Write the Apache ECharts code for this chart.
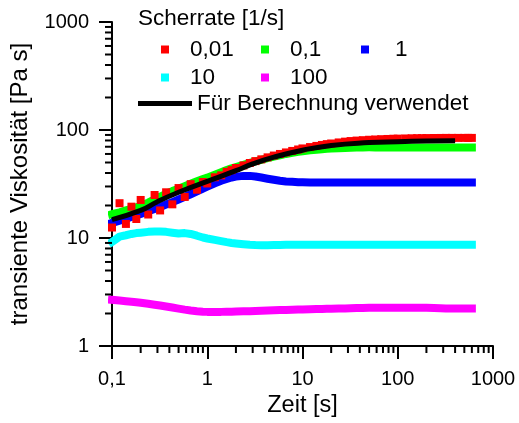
<!DOCTYPE html>
<html>
<head>
<meta charset="utf-8">
<script src="https://cdn.jsdelivr.net/npm/echarts@6/dist/echarts.min.js"></script>
<style>html,body{margin:0;padding:0;background:#fff}#c{width:519px;height:423px}</style>
</head>
<body>
<div id="c"></div>
<script>
// time axis samples [s]
const times = [0.1,0.12,0.14,0.16,0.18,0.2,0.24,0.28,0.32,0.37,0.43,0.5,0.58,0.67,0.78,0.9,1,1.2,1.4,1.6,1.8,2,2.4,2.8,3.2,3.7,4.3,5,5.8,6.7,7.8,9,10,12,14,16,18,20,24,28,32,37,43,50,58,67,78,90,100,120,140,160,180,200,240,280,320,370,430,500,550,600];
// shear rate 0.01 1/s
const visc001 = [12.5,21,13.5,19.5,15,22.5,16.5,25,18,26.5,20.5,29,24,31.5,28,33,32,36.5,38,41,42.5,44.5,47,49.5,51.5,53.5,55.8,58,60,62,64,66,67.5,69.5,71.2,72.7,74,75,76.7,78,79,79.8,80.5,81.2,81.7,82.2,82.6,83,83.2,83.5,83.8,84,84,84.2,84.3,84.4,84.5,84.5,84.5,84.5,84.5,84.5];
// shear rate 0.1 1/s
const visc01 = [16.6,17.3,18,18.6,19.2,19.8,21.3,22.8,24.1,25.7,27.2,28.6,30.2,31.8,33.6,35.2,36.2,38.6,40.7,42.6,44.2,45.4,47.6,49.6,51.2,53,54.8,56.8,58.4,60,61.5,62.8,63.6,64.8,65.7,66.4,66.9,67.3,67.9,68.3,68.6,68.8,69,69.1,69,69,69,69,69,69,69,69,69,69,69,69,69,69,69,69,69,69];
// shear rate 1 1/s
const visc1 = [13.8,14.5,15.1,15.7,16.2,16.7,17.7,18.6,19.4,20.4,21.5,22.7,24,25.4,27,28.7,29.9,32.1,33.9,35.2,36.3,37,37.6,37.6,37.1,36.3,35.4,34.6,33.9,33.4,33.1,32.9,32.8,32.7,32.6,32.6,32.6,32.6,32.6,32.6,32.6,32.6,32.6,32.6,32.6,32.6,32.6,32.6,32.6,32.6,32.6,32.6,32.6,32.6,32.6,32.6,32.6,32.6,32.6,32.6,32.6,32.6];
// shear rate 10 1/s
const visc10 = [9.2,10.3,10.6,10.9,11.1,11.2,11.4,11.5,11.5,11.4,11.2,11.0,11.1,10.9,10.5,10.1,9.9,9.6,9.35,9.15,9.0,8.9,8.75,8.65,8.6,8.58,8.58,8.6,8.62,8.64,8.65,8.65,8.65,8.65,8.65,8.65,8.65,8.65,8.65,8.65,8.65,8.65,8.65,8.65,8.65,8.65,8.65,8.65,8.65,8.65,8.65,8.65,8.65,8.65,8.65,8.65,8.65,8.65,8.65,8.65,8.65,8.65];
// shear rate 100 1/s
const visc100 = [2.68,2.64,2.6,2.57,2.54,2.51,2.46,2.41,2.37,2.32,2.27,2.22,2.17,2.13,2.1,2.08,2.07,2.07,2.07,2.08,2.08,2.09,2.1,2.1,2.11,2.12,2.13,2.14,2.15,2.16,2.17,2.18,2.18,2.19,2.2,2.2,2.21,2.21,2.22,2.23,2.24,2.25,2.25,2.26,2.26,2.26,2.26,2.26,2.26,2.26,2.26,2.26,2.26,2.26,2.25,2.24,2.23,2.22,2.22,2.22,2.22,2.22];
// curve used for calculation
const fitTimes = [0.1,0.2,0.3,0.5,1,2,3,5,10,20,50,100,200,400];
const fitVisc = [14.8,18,21.7,26.5,33.5,42,48.5,56,65,72,76.5,78,79,79.5];

const seriesNames = ['0,01','0,1','1','10','100'];
const seriesColors = ['#ff0000','#00ff00','#0000ff','#00ffff','#ff00ff'];
const seriesValues = [visc001, visc01, visc1, visc10, visc100];
const fitName = 'Für Berechnung verwendet';
const legendTitle = 'Scherrate [1/s]';

const xTickLabels = ['0,1','1','10','100','1000'];
const yTickLabels = ['1','10','100','1000'];
const xMinorTicks = [0.2,0.3,0.4,0.5,0.6,0.7,0.8,0.9,2,3,4,5,6,7,8,9,20,30,40,50,60,70,80,90,200,300,400,500,600,700,800,900];
const yMinorTicks = [2,3,4,5,6,7,8,9,20,30,40,50,60,70,80,90,200,300,400,500,600,700,800,900];

const FONT = 'Liberation Sans, Arial, sans-serif';
const chart = echarts.init(document.getElementById('c'), null, {renderer: 'canvas'});

const dataSeries = seriesNames.map((n, i) => {
  const data = times.map((t, k) => [t, seriesValues[i][k]]);
  if (i === 0) {
    return {name: n, type: 'scatter', symbol: 'rect', symbolSize: 8,
      itemStyle: {color: seriesColors[i], opacity: 1}, data: data, silent: true, z: 2};
  }
  return {name: n, type: 'line', showSymbol: false, symbol: 'rect', symbolSize: 8,
    itemStyle: {color: seriesColors[i]},
    lineStyle: {color: seriesColors[i], width: 8, cap: 'square', join: 'round'},
    data: data, silent: true, z: 2};
});

function minorTickSeries(vals, isX) {
  return {
    type: 'custom', silent: true, clip: false, z: 5,
    data: vals.map(v => isX ? [v, 1] : [0.1, v]),
    renderItem: function (params, api) {
      const p = api.coord([api.value(0), api.value(1)]);
      const shape = isX ? {x1: p[0], y1: p[1], x2: p[0], y2: p[1] + 7}
                        : {x1: p[0], y1: p[1], x2: p[0] - 7, y2: p[1]};
      return {type: 'line', shape: shape, style: {stroke: '#000', lineWidth: 2}};
    }
  };
}

const legendPos = [
  {left: 161, top: 38, pad: 16},
  {left: 261, top: 38, pad: 16},
  {left: 361, top: 38, pad: 21},
  {left: 161, top: 66, pad: 16},
  {left: 261, top: 66, pad: 16}
];
const legends = seriesNames.map((n, i) => ({
  data: [n], left: legendPos[i].left, top: legendPos[i].top, padding: 0,
  itemWidth: 8, itemHeight: 8, icon: 'rect', selectedMode: false,
  textStyle: {fontFamily: FONT, fontSize: 22.5, color: '#000', padding: [0, 0, 0, legendPos[i].pad]}
}));
legends.push({
  data: [fitName], left: 138, top: 92, padding: 0,
  itemWidth: 54, itemHeight: 5, icon: 'rect', selectedMode: false,
  textStyle: {fontFamily: FONT, fontSize: 22.5, color: '#000'}
});

chart.setOption({
  animation: false,
  backgroundColor: '#fff',
  title: {text: legendTitle, left: 138, top: 7, padding: 0,
    textStyle: {fontFamily: FONT, fontSize: 22.5, fontWeight: 'normal', color: '#000'}},
  legend: legends,
  grid: {left: 110, right: 26, top: 22, bottom: 77},
  xAxis: {
    type: 'log', logBase: 10, min: 0.1, max: 1000,
    name: 'Zeit [s]', nameLocation: 'middle', nameGap: 46,
    nameTextStyle: {fontFamily: FONT, fontSize: 23.5, color: '#000'},
    axisLine: {lineStyle: {color: '#000', width: 2}},
    axisTick: {show: true, length: 13, lineStyle: {color: '#000', width: 2}},
    axisLabel: {fontFamily: FONT, fontSize: 20, color: '#000', margin: 23,
      formatter: v => xTickLabels[Math.round(Math.log10(v)) + 1]},
    splitLine: {show: false}
  },
  yAxis: {
    type: 'log', logBase: 10, min: 1, max: 1000,
    name: 'transiente Viskosität [Pa s]', nameLocation: 'middle', nameGap: 80,
    nameTextStyle: {fontFamily: FONT, fontSize: 24, color: '#000'},
    axisLine: {lineStyle: {color: '#000', width: 2}},
    axisTick: {show: true, length: 13, lineStyle: {color: '#000', width: 2}},
    axisLabel: {fontFamily: FONT, fontSize: 20, color: '#000', margin: 23,
      formatter: v => yTickLabels[Math.round(Math.log10(v))]},
    splitLine: {show: false}
  },
  series: dataSeries.concat([
    {
      name: fitName, type: 'line', smooth: true, showSymbol: false, symbol: 'none',
      lineStyle: {color: '#000', width: 5}, itemStyle: {color: '#000'},
      data: fitTimes.map((t, k) => [t, fitVisc[k]]), z: 4, silent: true
    },
    minorTickSeries(xMinorTicks, true),
    minorTickSeries(yMinorTicks, false)
  ])
});
</script>
</body>
</html>
